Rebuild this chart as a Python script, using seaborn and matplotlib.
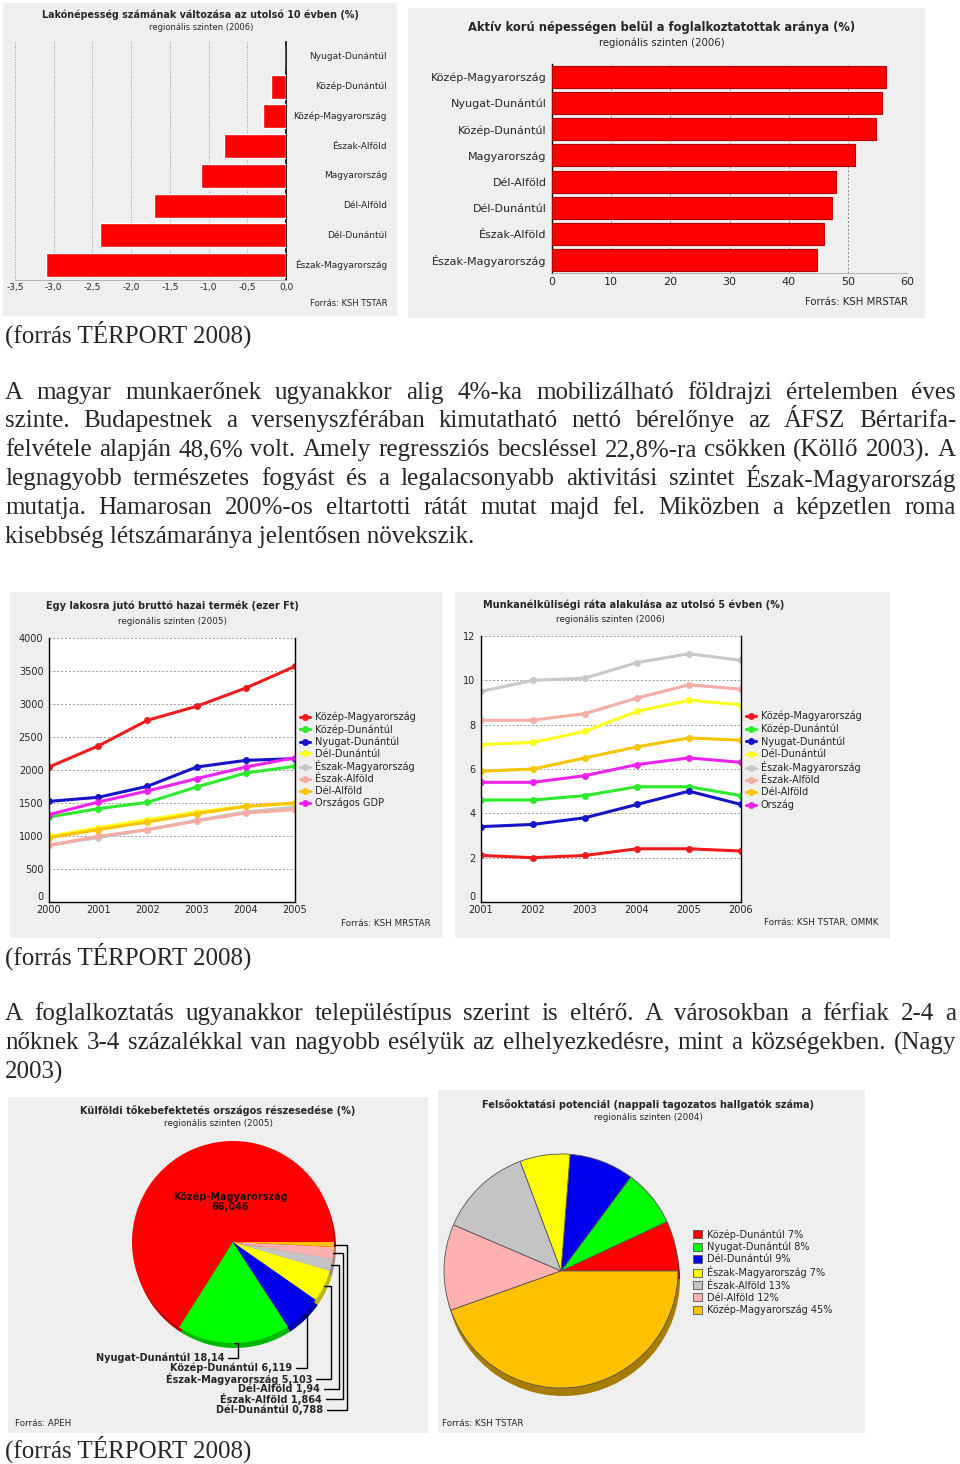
import matplotlib
matplotlib.use('Agg')
import matplotlib.pyplot as plt
import matplotlib.colors as mcolors
from matplotlib.patches import Rectangle
from matplotlib.lines import Line2D
import seaborn as sns
import numpy as np
import pandas as pd

# ---------------- data ----------------
pop_regions = ['Nyugat-Dunántúl', 'Közép-Dunántúl', 'Közép-Magyarország', 'Észak-Alföld',
               'Magyarország', 'Dél-Alföld', 'Dél-Dunántúl', 'Észak-Magyarország']
pop_change = [0.0, -0.2, -0.3, -0.8, -1.1, -1.7, -2.4, -3.1]
pop_ticks = [-3.5, -3.0, -2.5, -2.0, -1.5, -1.0, -0.5, 0.0]

emp_regions = ['Közép-Magyarország', 'Nyugat-Dunántúl', 'Közép-Dunántúl', 'Magyarország',
               'Dél-Alföld', 'Dél-Dunántúl', 'Észak-Alföld', 'Észak-Magyarország']
emp_rate = [56.4, 55.7, 54.7, 51.2, 48.0, 47.3, 45.9, 44.8]
emp_ticks = [0, 10, 20, 30, 40, 50, 60]

gdp_years = [2000, 2001, 2002, 2003, 2004, 2005]
gdp_series = ['Közép-Magyarország', 'Közép-Dunántúl', 'Nyugat-Dunántúl', 'Dél-Dunántúl',
              'Észak-Magyarország', 'Észak-Alföld', 'Dél-Alföld', 'Országos GDP']
gdp_kozep_magyarorszag = [2045, 2364, 2753, 2965, 3242, 3571]
gdp_kozep_dunantul = [1288, 1414, 1510, 1742, 1955, 2056]
gdp_nyugat_dunantul = [1525, 1586, 1753, 2045, 2146, 2172]
gdp_del_dunantul = [995, 1126, 1247, 1364, 1450, 1490]
gdp_eszak_magyarorszag = [859, 975, 1096, 1237, 1364, 1439]
gdp_eszak_alfold = [859, 995, 1096, 1227, 1349, 1399]
gdp_del_alfold = [975, 1096, 1212, 1338, 1450, 1500]
gdp_orszagos = [1323, 1515, 1682, 1869, 2045, 2187]
gdp_ticks = [0, 500, 1000, 1500, 2000, 2500, 3000, 3500, 4000]

unemp_years = [2001, 2002, 2003, 2004, 2005, 2006]
unemp_series = ['Közép-Magyarország', 'Közép-Dunántúl', 'Nyugat-Dunántúl', 'Dél-Dunántúl',
                'Észak-Magyarország', 'Észak-Alföld', 'Dél-Alföld', 'Ország']
unemp_kozep_magyarorszag = [2.1, 2.0, 2.1, 2.4, 2.4, 2.3]
unemp_kozep_dunantul = [4.6, 4.6, 4.8, 5.2, 5.2, 4.8]
unemp_nyugat_dunantul = [3.4, 3.5, 3.8, 4.4, 5.0, 4.4]
unemp_del_dunantul = [7.1, 7.2, 7.7, 8.6, 9.1, 8.9]
unemp_eszak_magyarorszag = [9.5, 10.0, 10.1, 10.8, 11.2, 10.9]
unemp_eszak_alfold = [8.2, 8.2, 8.5, 9.2, 9.8, 9.6]
unemp_del_alfold = [5.9, 6.0, 6.5, 7.0, 7.4, 7.3]
unemp_orszag = [5.4, 5.4, 5.7, 6.2, 6.5, 6.3]
unemp_ticks = [0, 2, 4, 6, 8, 10, 12]

fdi_regions = ['Közép-Magyarország', 'Nyugat-Dunántúl', 'Közép-Dunántúl', 'Észak-Magyarország',
               'Dél-Alföld', 'Észak-Alföld', 'Dél-Dunántúl']
fdi_share = [66.046, 18.14, 6.119, 5.103, 1.94, 1.864, 0.788]

edu_regions = ['Közép-Dunántúl', 'Nyugat-Dunántúl', 'Dél-Dunántúl', 'Észak-Magyarország',
               'Észak-Alföld', 'Dél-Alföld', 'Közép-Magyarország']
edu_share = [7, 8, 9, 7, 13, 12, 45]

para1 = [
    "A magyar munkaerőnek ugyanakkor alig 4%-ka mobilizálható földrajzi értelemben éves",
    "szinte. Budapestnek a versenyszférában kimutatható nettó bérelőnye az ÁFSZ Bértarifa-",
    "felvétele alapján 48,6% volt. Amely regressziós becsléssel 22,8%-ra csökken (Köllő 2003). A",
    "legnagyobb természetes fogyást és a legalacsonyabb aktivitási szintet Észak-Magyarország",
    "mutatja. Hamarosan 200%-os eltartotti rátát mutat majd fel. Miközben a képzetlen roma",
    "kisebbség létszámaránya jelentősen növekszik.",
]
para2 = [
    "A foglalkoztatás ugyanakkor településtípus szerint is eltérő. A városokban a férfiak 2-4 a",
    "nőknek 3-4 százalékkal van nagyobb esélyük az elhelyezkedésre, mint a községekben. (Nagy",
    "2003)",
]
source_note = "(forrás TÉRPORT 2008)"

# ---------------- style ----------------
sns.set_theme(style='white')
plt.rcParams['font.family'] = ['DejaVu Sans']
W, H = 960, 1464
fig = plt.figure(figsize=(W / 100, H / 100), dpi=100)
fig.patch.set_facecolor('white')
SERIF = 'Liberation Serif'
PANEL = '#efefef'
DOC_FS = 18

line_colors = ['#ee1c1c', '#2cea2c', '#1414c8', '#ffff1e', '#c8c8c8', '#f5aca2', '#f8c400', '#ee22ee']
pie_colors = ['#ff0000', '#00ff00', '#0000ee', '#ffff00', '#c4c4c4', '#ffb0b0', '#ffc000']


def fx(x):
    return x / W


def fy(y):
    return 1 - y / H


def panel(l, t, r, b):
    fig.add_artist(Rectangle((fx(l), fy(b)), (r - l) / W, (b - t) / H, transform=fig.transFigure,
                             facecolor=PANEL, edgecolor='none', zorder=-5))


def px_axes(l, t, r, b):
    return fig.add_axes([fx(l), fy(b), (r - l) / W, (b - t) / H])


def ftext(x, y, s, **kw):
    return fig.text(fx(x), fy(y), s, **kw)


def dec(v, fmt='{:.1f}'):
    return fmt.format(v).replace('.', ',')


def darker(c, f=0.72):
    r, g, b = mcolors.to_rgb(c)
    return (r * f, g * f, b * f)


# ---------------- chart 1: population change ----------------
panel(3, 3, 397, 316)
ax1 = px_axes(15, 42, 286, 280)
df1 = pd.DataFrame({'region': pop_regions, 'value': pop_change})
sns.barplot(data=df1, x='value', y='region', color='#ff0000', saturation=1, width=0.8, ax=ax1, zorder=3)
ax1.set_facecolor(PANEL)
ax1.set_xlim(-3.5, 0)
ax1.set_ylim(len(pop_regions) - 0.5, -0.5)
ax1.set_xticks(pop_ticks)
ax1.set_xticklabels([dec(v) for v in pop_ticks], fontsize=6.5)
ax1.set_yticks([])
ax1.set_xlabel('')
ax1.set_ylabel('')
ax1.xaxis.grid(True, linestyle=(0, (1, 2)), color='#777777', lw=0.6)
ax1.set_axisbelow(True)
for s in ['top', 'left']:
    ax1.spines[s].set_visible(False)
ax1.spines['right'].set_color('black')
ax1.spines['right'].set_linewidth(1.2)
ax1.spines['bottom'].set_color('#aaaaaa')
ax1.spines['bottom'].set_linewidth(0.6)
ax1.tick_params(axis='x', length=0, pad=2)
for i, name in enumerate(pop_regions):
    ax1.text(1 + (387 - 286) / (286 - 15), i, name, transform=ax1.get_yaxis_transform(),
             ha='right', va='center', fontsize=6.5)
ftext(200, 15, 'Lakónépesség számának változása az utolsó 10 évben (%)', ha='center', va='center',
      fontsize=6.9, fontweight='bold')
ftext(201, 27, 'regionális szinten (2006)', ha='center', va='center', fontsize=6)
ftext(387, 303, 'Forrás: KSH TSTAR', ha='right', va='center', fontsize=6)

# ---------------- chart 2: employment rate ----------------
panel(408, 8, 925, 318)
ax2 = px_axes(552, 64, 907, 273)
df2 = pd.DataFrame({'region': emp_regions, 'value': emp_rate})
sns.barplot(data=df2, x='value', y='region', color='#ff0000', saturation=1, width=0.84, ax=ax2,
            edgecolor='#b80000', linewidth=0.8, zorder=3)
ax2.set_facecolor(PANEL)
ax2.set_xlim(0, 60)
ax2.set_ylim(len(emp_regions) - 0.5, -0.5)
ax2.set_xticks(emp_ticks)
ax2.set_xticklabels([str(v) for v in emp_ticks], fontsize=8)
ax2.set_xlabel('')
ax2.set_ylabel('')
ax2.tick_params(axis='y', length=0, pad=4, labelsize=8)
ax2.tick_params(axis='x', length=0, pad=3)
ax2.xaxis.grid(True, linestyle=(0, (2, 2)), color='#888888', lw=0.7)
ax2.set_axisbelow(True)
for s in ['top', 'right']:
    ax2.spines[s].set_visible(False)
ax2.spines['left'].set_color('black')
ax2.spines['left'].set_linewidth(1.0)
ax2.spines['bottom'].set_color('#aaaaaa')
ax2.spines['bottom'].set_linewidth(0.6)
ftext(662, 27, 'Aktív korú népességen belül a foglalkoztatottak aránya (%)', ha='center', va='center',
      fontsize=8.3, fontweight='bold')
ftext(662, 43, 'regionális szinten (2006)', ha='center', va='center', fontsize=7.3)
ftext(908, 302, 'Forrás: KSH MRSTAR', ha='right', va='center', fontsize=7.3)


# ---------------- line chart helper ----------------
def line_chart(ax, years, series, values, ticks, ylim):
    recs = []
    for name, vals in zip(series, values):
        for yv, v in zip(years, vals):
            recs.append({'year': yv, 'value': v, 'region': name})
    df = pd.DataFrame(recs)
    pal = dict(zip(series, line_colors))
    sns.lineplot(data=df, x='year', y='value', hue='region', hue_order=series, palette=pal,
                 marker='o', markersize=5, markeredgewidth=0, linewidth=2.2, legend=False, ax=ax,
                 sort=False)
    ax.set_facecolor('white')
    ax.set_xlim(years[0], years[-1])
    ax.set_ylim(*ylim)
    ax.set_xticks(years)
    ax.set_xticklabels([str(y) for y in years], fontsize=7)
    ax.set_yticks(ticks)
    ax.set_yticklabels([str(t) for t in ticks], fontsize=7)
    ax.get_yticklabels()[0].set_verticalalignment('bottom')
    ax.set_xlabel('')
    ax.set_ylabel('')
    ax.yaxis.grid(True, linestyle=(0, (2, 2)), color='#999999', lw=0.7)
    ax.set_axisbelow(True)
    ax.spines['top'].set_visible(False)
    for s in ['left', 'right', 'bottom']:
        ax.spines[s].set_color('black')
        ax.spines[s].set_linewidth(1.0)
    ax.tick_params(axis='x', length=0, pad=2.5)
    ax.tick_params(axis='y', length=0, pad=4)
    return pal


# ---------------- chart 3: GDP per capita ----------------
panel(10, 592, 443, 938)
ax3 = px_axes(49, 638, 295, 902)
gdp_values = [gdp_kozep_magyarorszag, gdp_kozep_dunantul, gdp_nyugat_dunantul, gdp_del_dunantul,
              gdp_eszak_magyarorszag, gdp_eszak_alfold, gdp_del_alfold, gdp_orszagos]
pal3 = line_chart(ax3, gdp_years, gdp_series, gdp_values, gdp_ticks, (0, 4000))
h3 = [Line2D([], [], color=pal3[s], lw=2.2, marker='o', ms=5, mew=0) for s in gdp_series]
ax3.legend(h3, gdp_series, loc='upper left', bbox_to_anchor=(fx(300), fy(712)),
           bbox_transform=fig.transFigure, frameon=False, fontsize=7, handlelength=1.0,
           handletextpad=0.5, labelspacing=0.18, borderpad=0, borderaxespad=0)
ftext(172, 606, 'Egy lakosra jutó bruttó hazai termék (ezer Ft)', ha='center', va='center',
      fontsize=7, fontweight='bold')
ftext(172, 621, 'regionális szinten (2005)', ha='center', va='center', fontsize=6.3)
ftext(431, 923, 'Forrás: KSH MRSTAR', ha='right', va='center', fontsize=6.3)

# ---------------- chart 4: unemployment ----------------
panel(455, 592, 890, 938)
ax4 = px_axes(481, 636, 741, 902)
unemp_values = [unemp_kozep_magyarorszag, unemp_kozep_dunantul, unemp_nyugat_dunantul,
                unemp_del_dunantul, unemp_eszak_magyarorszag, unemp_eszak_alfold, unemp_del_alfold,
                unemp_orszag]
pal4 = line_chart(ax4, unemp_years, unemp_series, unemp_values, unemp_ticks, (0, 12))
h4 = [Line2D([], [], color=pal4[s], lw=2.2, marker='o', ms=5, mew=0) for s in unemp_series]
ax4.legend(h4, unemp_series, loc='upper left', bbox_to_anchor=(fx(746), fy(711)),
           bbox_transform=fig.transFigure, frameon=False, fontsize=7, handlelength=1.0,
           handletextpad=0.5, labelspacing=0.22, borderpad=0, borderaxespad=0)
ftext(634, 605, 'Munkanélküliségi ráta alakulása az utolsó 5 évben (%)', ha='center', va='center',
      fontsize=7, fontweight='bold')
ftext(610, 619, 'regionális szinten (2006)', ha='center', va='center', fontsize=6.3)
ftext(878, 923, 'Forrás: KSH TSTAR, OMMK', ha='right', va='center', fontsize=6.3)

# ---------------- chart 5: FDI pie ----------------
panel(8, 1097, 428, 1433)
ax5 = px_axes(8, 1097, 428, 1433)
c5 = (233, H - 1242)
r5 = 101
ax5.pie(fdi_share, colors=[darker(c) for c in pie_colors], startangle=0, radius=r5,
        center=(c5[0] + 2, c5[1] - 5), wedgeprops=dict(linewidth=0))
wedges5, _ = ax5.pie(fdi_share, colors=pie_colors, startangle=0, radius=r5, center=c5,
                     wedgeprops=dict(linewidth=0))
ax5.set_xlim(8, 428)
ax5.set_ylim(H - 1433, H - 1097)
ax5.set_aspect('auto')
ax5.axis('off')
ax5.text(230, H - 1202, f'{fdi_regions[0]}\n{dec(fdi_share[0], "{:g}")}', ha='center', va='center',
         fontsize=7, fontweight='bold', color='#200000', linespacing=0.95)
lab_y = [1358, 1368, 1379, 1389, 1399, 1410]
lab_end = [224, 292, 312, 320, 322, 323]
col_x = [238, 307, 331, 339, 343, 347]
for i in range(1, len(fdi_share)):
    w = wedges5[i]
    ang = np.deg2rad((w.theta1 + w.theta2) / 2)
    px_ = c5[0] + r5 * np.cos(ang)
    py_ = c5[1] + r5 * np.sin(ang)
    cx = max(col_x[i - 1], px_)
    ly = H - lab_y[i - 1]
    ax5.plot([px_, cx, cx, lab_end[i - 1] + 4], [py_, py_, ly, ly], color='black', lw=1,
             solid_joinstyle='miter')
    ax5.text(lab_end[i - 1], ly, f'{fdi_regions[i]} {dec(fdi_share[i], "{:g}")}', ha='right',
             va='center', fontsize=7, fontweight='bold')
ftext(218, 1111, 'Külföldi tőkebefektetés országos részesedése (%)', ha='center', va='center',
      fontsize=7, fontweight='bold')
ftext(218, 1124, 'regionális szinten (2005)', ha='center', va='center', fontsize=6.3)
ftext(15, 1424, 'Forrás: APEH', ha='left', va='center', fontsize=6.3)

# ---------------- chart 6: higher education pie ----------------
panel(438, 1090, 865, 1433)
ax6 = px_axes(438, 1090, 865, 1433)
c6 = (561, H - 1271)
r6 = 117
ax6.pie(edu_share, colors=[darker(c, 0.65) for c in pie_colors], startangle=0, radius=r6,
        center=(c6[0] + 2, c6[1] - 8), wedgeprops=dict(linewidth=0))
wedges6, _ = ax6.pie(edu_share, colors=pie_colors, startangle=0, radius=r6, center=c6,
                     wedgeprops=dict(linewidth=0.6, edgecolor='#555555'))
ax6.set_xlim(438, 865)
ax6.set_ylim(H - 1433, H - 1090)
ax6.set_aspect('auto')
ax6.axis('off')
ax6.legend(wedges6, [f'{r} {v}%' for r, v in zip(edu_regions, edu_share)], loc='upper left',
           bbox_to_anchor=(fx(693), fy(1229)), bbox_transform=fig.transFigure, frameon=False,
           fontsize=7, handlelength=0.9, handleheight=0.9, handletextpad=0.5, labelspacing=0.22,
           borderpad=0, borderaxespad=0)
ftext(648, 1105, 'Felsőoktatási potenciál (nappali tagozatos hallgatók száma)', ha='center',
      va='center', fontsize=7, fontweight='bold')
ftext(648, 1118, 'regionális szinten (2004)', ha='center', va='center', fontsize=6.3)
ftext(442, 1424, 'Forrás: KSH TSTAR', ha='left', va='center', fontsize=6.3)

# ---------------- document text ----------------
renderer = fig.canvas.get_renderer()


def doc_line(s, y, justify, x0=5, x1=956):
    if not justify:
        ftext(x0, y, s, ha='left', va='center', fontsize=DOC_FS, family=SERIF)
        return
    words = s.split(' ')
    ts = [ftext(0, y, w_, ha='left', va='center', fontsize=DOC_FS, family=SERIF) for w_ in words]
    widths = [t.get_window_extent(renderer).width for t in ts]
    gap = (x1 - x0 - sum(widths)) / (len(words) - 1)
    x = x0
    for t, wd in zip(ts, widths):
        t.set_x(fx(x))
        x += wd + gap


doc_line(source_note, 334, False)
for k, (s, y) in enumerate(zip(para1, [393, 421, 450, 479, 508, 537])):
    doc_line(s, y, k < len(para1) - 1)
doc_line(source_note, 956, False)
for k, (s, y) in enumerate(zip(para2, [1014, 1043, 1072])):
    doc_line(s, y, k < len(para2) - 1)
doc_line(source_note, 1449, False)

fig.savefig('out.png', dpi=100, facecolor='white')
